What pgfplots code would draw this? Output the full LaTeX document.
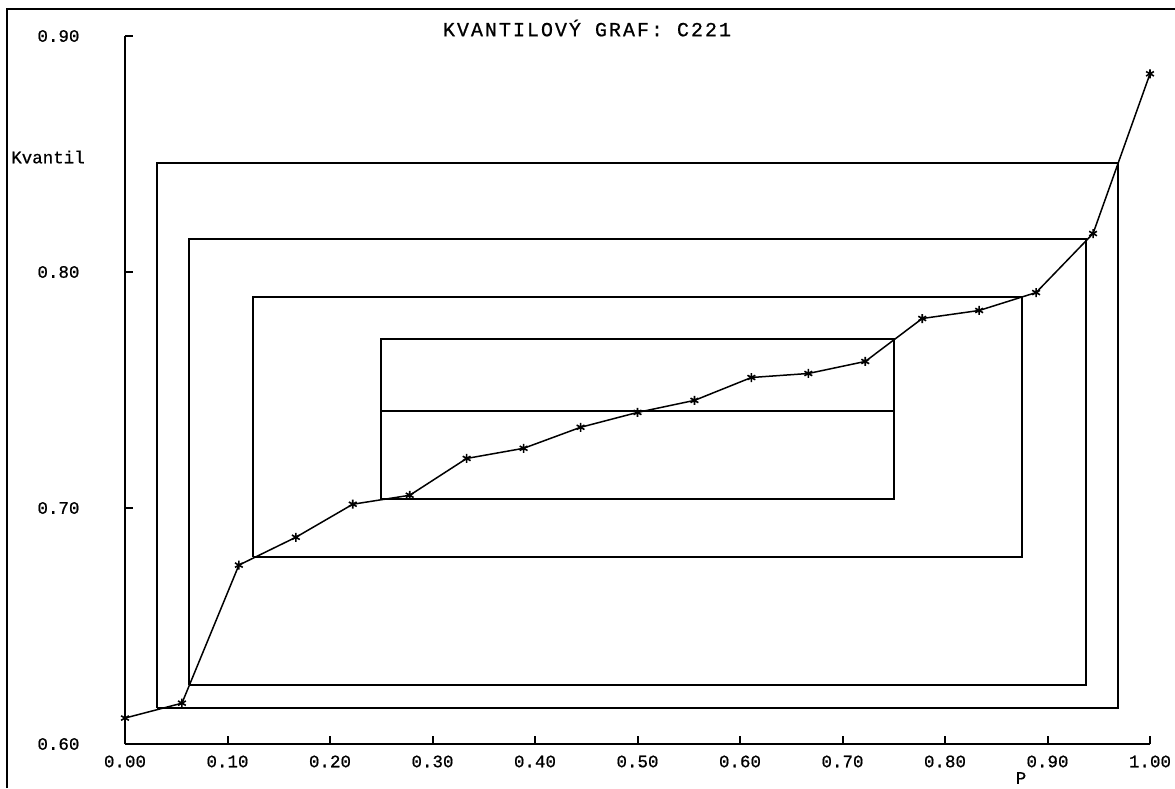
\documentclass[border=0pt]{standalone}
\usepackage{fontspec}
\setmainfont{Liberation Sans}
\newfontfamily\monofont[FakeBold=0.7]{Liberation Mono}
\newfontfamily\titlefont[LetterSpace=10,FakeBold=0.7]{Liberation Mono}
\usepackage{pgfplots}
\pgfplotsset{compat=1.18}

\pgfplotstableread{
p q
0.00000 0.6110
0.05556 0.6173
0.11111 0.6758
0.16667 0.6876
0.22222 0.7016
0.27778 0.7054
0.33333 0.7210
0.38889 0.7253
0.44444 0.7342
0.50000 0.7405
0.55556 0.7456
0.61111 0.7553
0.66667 0.7570
0.72222 0.7621
0.77778 0.7803
0.83333 0.7837
0.88889 0.7913
0.94444 0.8163
1.00000 0.8840
}\quantiles

\begin{document}
\begin{tikzpicture}[x=1pt,y=1pt]
\useasboundingbox (0,0) rectangle (1175,-788);
\draw[line width=2pt] (7,-788) -- (7,-9) -- (1175,-9);
\begin{axis}[
  at={(125pt,-744pt)}, anchor=south west,
  scale only axis, width=1025pt, height=708pt,
  xmin=0, xmax=1, ymin=0.6, ymax=0.9,
  axis x line=bottom, axis y line=left,
  axis line style={-, line width=2pt},
  tick style={line width=2pt, black},
  major tick length=8pt, tick align=inside,
  xtick={0,0.1,0.2,0.3,0.4,0.5,0.6,0.7,0.8,0.9,1.0},
  ytick={0.6,0.7,0.8,0.9},
  /pgf/number format/.cd, fixed, zerofill, precision=2, assume math mode=true,
  /pgfplots/.cd,
  ticklabel style={font=\fontsize{17.5}{20}\selectfont\monofont},
  yticklabel style={xshift=-42pt},
  xticklabel style={yshift=-8pt},
  clip=false,
]
% nested quantile boxes
\addplot[black, line width=2pt] coordinates {(0.25,0.7040) (0.75,0.7040) (0.75,0.7717) (0.25,0.7717) (0.25,0.7040)};
\addplot[black, line width=2pt] coordinates {(0.25,0.7413) (0.75,0.7413)};
\addplot[black, line width=2pt] coordinates {(0.125,0.6791) (0.875,0.6791) (0.875,0.7896) (0.125,0.7896) (0.125,0.6791)};
\addplot[black, line width=2pt] coordinates {(0.0625,0.6250) (0.9375,0.6250) (0.9375,0.8140) (0.0625,0.8140) (0.0625,0.6250)};
\addplot[black, line width=2pt] coordinates {(0.03125,0.6154) (0.96875,0.6154) (0.96875,0.8464) (0.03125,0.8464) (0.03125,0.6154)};
% quantile line
\addplot[black, line width=1.5pt, mark=asterisk, mark size=4.5pt, mark options={line width=1.6pt}] table[x=p, y=q] {\quantiles};
\end{axis}
\node[font=\fontsize{20}{22}\selectfont\titlefont] at (587,-28) {KVANTILOVÝ GRAF: C221};
\node[font=\fontsize{17.5}{20}\selectfont\monofont] at (48,-157) {Kvantil};
\node[font=\fontsize{17.5}{20}\selectfont\monofont] at (1021,-778) {P};
\end{tikzpicture}
\end{document}
